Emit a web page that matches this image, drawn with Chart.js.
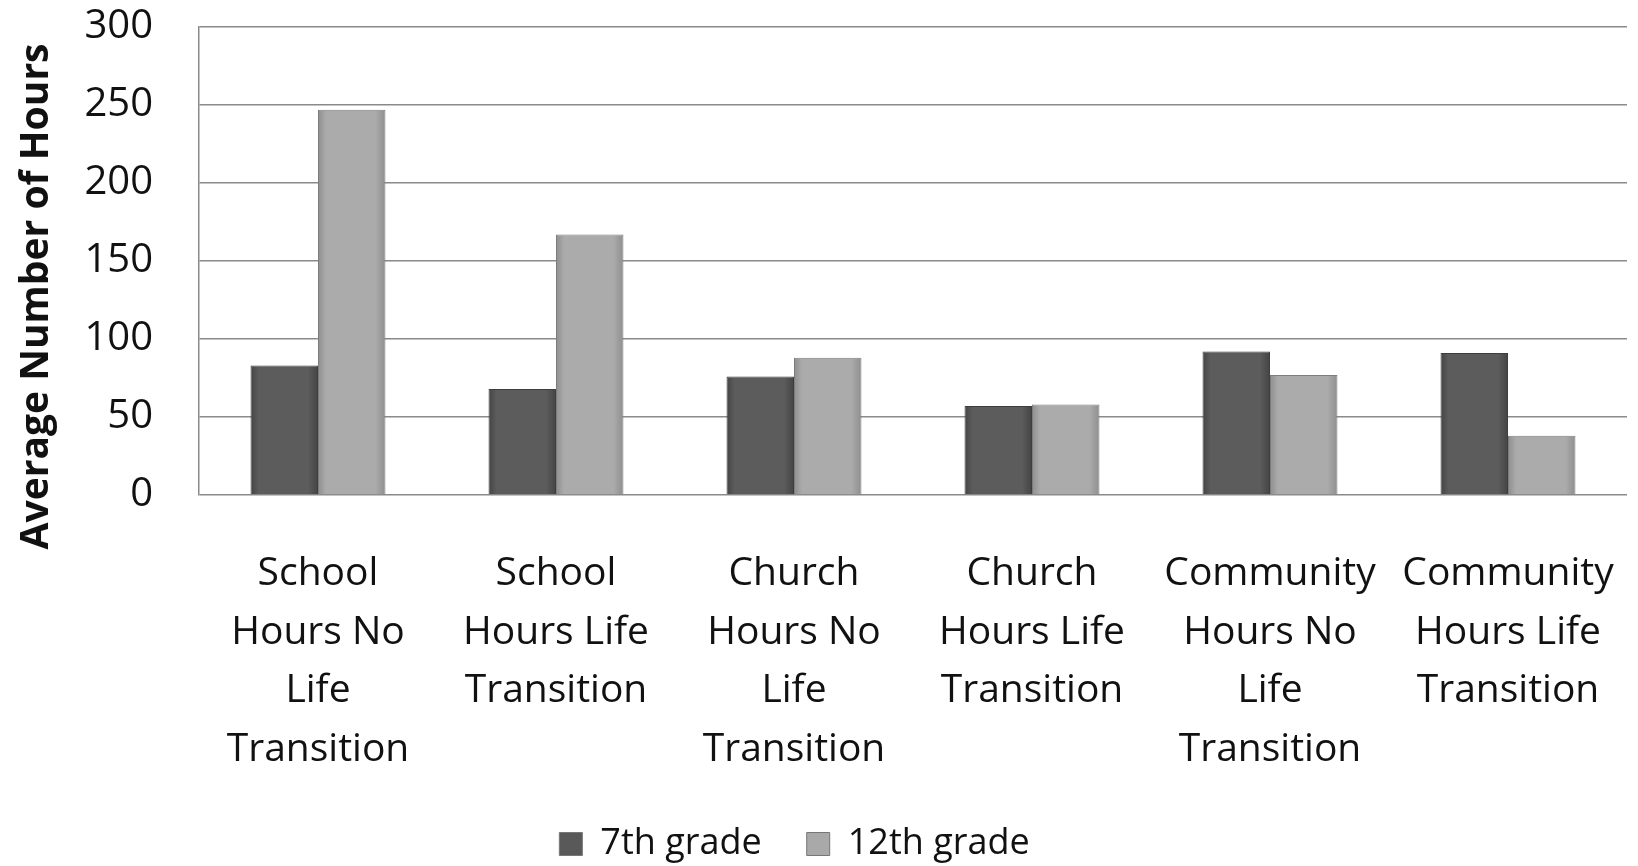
<!DOCTYPE html>
<html>
<head>
<meta charset="utf-8">
<script src="https://cdn.jsdelivr.net/npm/chart.js@4.4.1/dist/chart.umd.min.js"></script>
<style>
    html, body { margin: 0; padding: 0; background: #fff; }
    #wrap { width: 1638px; height: 866px; }
</style>
</head>
<body>
<div id="wrap"><canvas id="chart"></canvas></div>
<script>
const categories = [
    ['School', 'Hours No', 'Life', 'Transition'],
    ['School', 'Hours Life', 'Transition'],
    ['Church', 'Hours No', 'Life', 'Transition'],
    ['Church', 'Hours Life', 'Transition'],
    ['Community', 'Hours No', 'Life', 'Transition'],
    ['Community', 'Hours Life', 'Transition']
];
const seriesNames = ['7th grade', '12th grade'];
const grade7 = [83, 68, 76, 57, 92, 91];
const grade12 = [247, 167, 88, 58, 77, 38];
const yTicks = [0, 50, 100, 150, 200, 250, 300];

const CAT_PCT = 0.567;
const FONT = "'Open Sans', 'Noto Sans', sans-serif";

// horizontal shading so the bars look a bit rounded like the original
function barFill(edge, mid) {
    return function (ctx) {
        const chart = ctx.chart;
        if (!chart.chartArea || ctx.type !== 'data') return mid;
        const xs = chart.scales.x;
        const catW = xs.width / categories.length;
        const barW = catW * CAT_PCT / 2;
        const cx = xs.getPixelForValue(ctx.dataIndex);
        const x0 = cx - barW + ctx.datasetIndex * barW;
        const g = chart.ctx.createLinearGradient(x0, 0, x0 + barW, 0);
        g.addColorStop(0, edge);
        g.addColorStop(0.12, mid);
        g.addColorStop(0.85, mid);
        g.addColorStop(1, edge);
        return g;
    };
}

const solid = ['#595959', '#a9a9a9'];

// the legend in the original sits a little left of the page centre
const legendShift = {
    id: 'legendShift',
    afterLayout(chart) {
        const lg = chart.legend;
        if (lg) { lg.left -= 19; lg.right -= 19; }
    }
};

new Chart(document.getElementById('chart').getContext('2d'), {
    type: 'bar',
    data: {
        labels: categories,
        datasets: [{
            label: seriesNames[0],
            data: grade7,
            backgroundColor: barFill('#444444', '#5c5c5c'),
            borderColor: '#3e3e3e',
            borderWidth: 1
        }, {
            label: seriesNames[1],
            data: grade12,
            backgroundColor: barFill('#8e8e8e', '#ababab'),
            borderColor: '#7d7d7d',
            borderWidth: 1
        }]
    },
    plugins: [legendShift],
    options: {
        responsive: true,
        maintainAspectRatio: false,
        animation: false,
        layout: { padding: { top: 27, right: 11, left: 0, bottom: 0 } },
        datasets: { bar: { categoryPercentage: CAT_PCT, barPercentage: 1 } },
        scales: {
            x: {
                grid: { display: false, drawTicks: false },
                border: { display: false },
                ticks: {
                    color: '#111',
                    maxRotation: 0,
                    autoSkip: false,
                    padding: 50,
                    font: { family: FONT, size: 39, lineHeight: 1.5 }
                },
                afterFit: (s) => {
                    s.height = 286;
                    s.paddingLeft = 0;
                    s.paddingRight = 0;
                }
            },
            y: {
                min: 0,
                max: 300,
                afterBuildTicks: (s) => { s.ticks = yTicks.map(v => ({ value: v })); },
                grid: { color: '#8a8a8a', lineWidth: 1.5, drawTicks: false },
                border: { display: true, color: '#8a8a8a', width: 1.5 },
                ticks: {
                    color: '#111',
                    padding: 46,
                    font: { family: FONT, size: 40 }
                },
                title: {
                    display: true,
                    // trailing spaces push the visible words down, as in the original
                    text: 'Average Number of Hours       ',
                    color: '#111',
                    padding: { top: 13, bottom: 0 },
                    font: { family: FONT, size: 39, weight: 'bold' }
                },
                afterFit: (s) => {
                    s.width = 199;
                    s.paddingTop = 0;
                    s.paddingBottom = 0;
                }
            }
        },
        plugins: {
            tooltip: { enabled: false },
            legend: {
                position: 'bottom',
                maxHeight: 85,
                labels: {
                    color: '#111',
                    boxWidth: 23,
                    boxHeight: 23,
                    padding: 45,
                    font: { family: FONT, size: 36 },
                    generateLabels: (chart) => chart.data.datasets.map((d, i) => ({
                        text: d.label,
                        fillStyle: solid[i],
                        strokeStyle: '#777',
                        lineWidth: 1,
                        datasetIndex: i,
                        fontColor: '#111'
                    }))
                }
            }
        }
    }
});
</script>
</body>
</html>
